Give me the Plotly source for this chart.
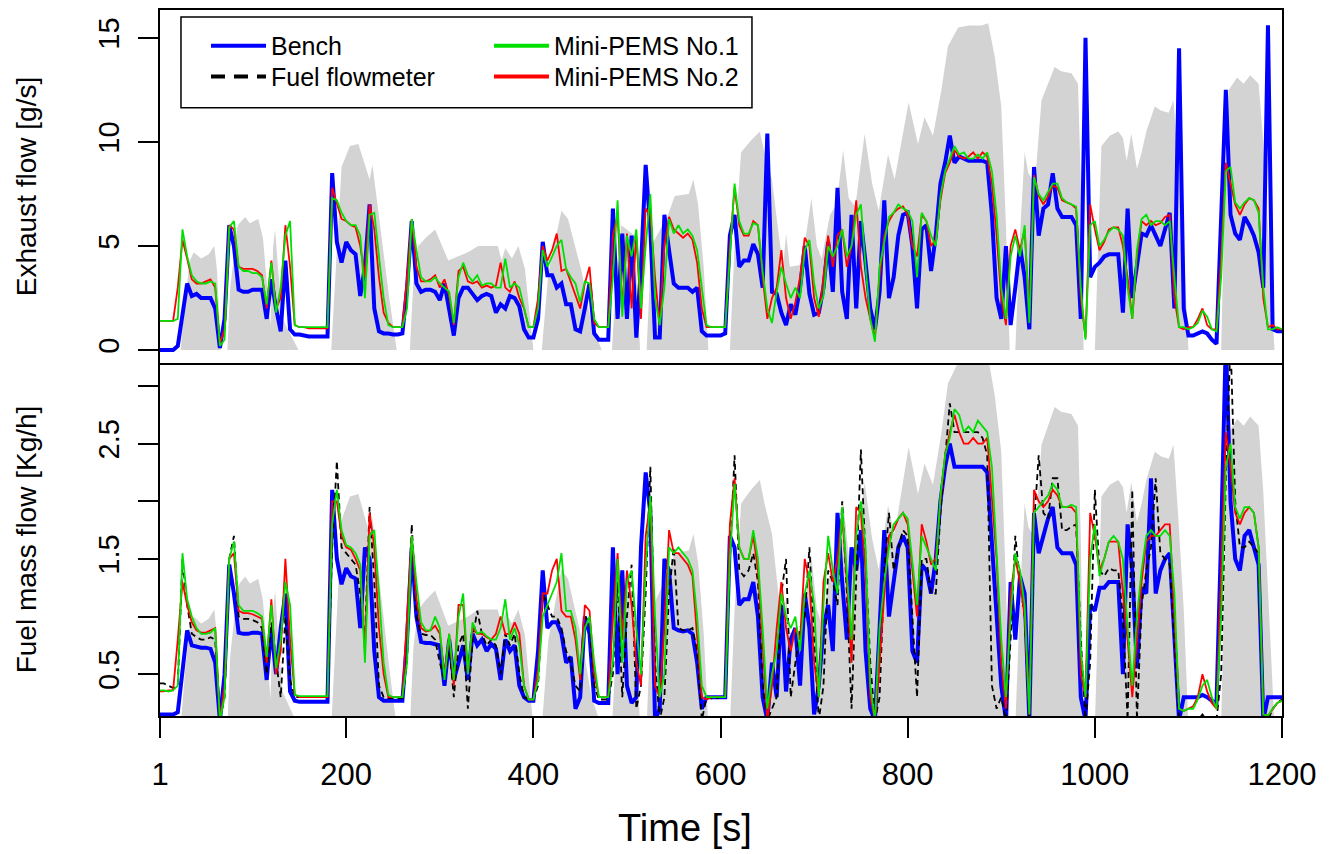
import plotly.graph_objects as go

# ---------------- data ----------------
# common time grid [s]
t = [1] + list(range(5, 1201, 5))

# grey background profile (drawn in exhaust-flow units on the top panel)
gray_t = [1, 23, 28, 33, 37, 45, 53, 59, 62, 66, 73, 76, 84, 92, 97, 101, 106, 111, 116, 119,
          122, 124, 127, 132, 140, 149, 184, 190, 195, 204, 213, 220, 225, 228, 232, 238, 246, 254, 268, 272,
          277, 285, 295, 309, 330, 341, 362, 366, 370, 377, 384, 391, 400, 409, 416, 430, 437, 452, 462, 473,
          484, 489, 494, 508, 514, 521, 526, 544, 551, 566, 571, 576, 582, 587, 610, 615, 622, 633, 642, 647,
          655, 662, 667, 670, 674, 687, 697, 703, 708, 717, 724, 731, 737, 744, 754, 762, 769, 779, 786, 801,
          811, 818, 827, 836, 843, 854, 865, 879, 886, 893, 900, 905, 909, 915, 920, 925, 929, 936, 943, 957,
          964, 975, 982, 985, 988, 1000, 1004, 1007, 1016, 1025, 1030, 1034, 1039, 1045, 1050, 1055, 1064, 1071, 1079, 1084,
          1089, 1095, 1100, 1135, 1139, 1143, 1152, 1159, 1166, 1175, 1180, 1187, 1192, 1200]
gray_v = [0, 0, 2.5, 4.3, 4.7, 4.4, 4.6, 5.0, 3.8, 0, 0, 3.0, 6.0, 6.4, 6.1, 6.2, 6.3, 5.4, 2.5, 1.2,
          5.0, 5.8, 4.0, 1.5, 0.8, 0, 0, 5.0, 8.8, 9.8, 9.9, 8.9, 8.2, 8.9, 7.5, 5.2, 2.5, 0, 0, 3.5,
          5.0, 5.4, 5.8, 4.3, 4.7, 5.0, 5.0, 4.3, 4.9, 4.4, 5.0, 3.9, 0, 0, 3.7, 6.7, 6.3, 3.7, 1.3, 0,
          0, 4.0, 6.0, 5.5, 0, 0, 5.0, 6.5, 7.4, 7.5, 8.2, 7.0, 4.0, 0, 0, 5.0, 9.5, 10.1, 10.5, 9.5,
          8.2, 5.6, 4.0, 5.6, 4.0, 4.1, 7.3, 5.0, 4.4, 6.5, 7.0, 9.6, 7.3, 6.9, 10.4, 8.0, 6.7, 9.4, 8.2, 11.9,
          9.9, 11.2, 10.3, 12.5, 14.6, 15.5, 15.6, 15.6, 15.7, 14.1, 11.7, 6.0, 0, 0, 5.5, 9.5, 8.5, 8.0, 12.0, 13.6,
          13.4, 13.3, 12.8, 8.0, 0, 0, 6.0, 9.8, 10.3, 10.5, 10.2, 9.1, 10.4, 8.7, 9.5, 10.5, 11.7, 11.5, 11.4, 12.0,
          9.0, 5.0, 0, 0, 8.0, 12.5, 13.1, 12.8, 13.2, 12.8, 10.0, 4.0, 0, 0]

# Exhaust flow [g/s]
bench_exh = [
    0, 0, 0, 0, 0.2, 1.8, 3.2, 2.6, 2.7, 2.5, 2.5, 2.5, 2.0, 0.1, 1.5, 6.0, 5.0, 2.9, 2.8, 2.8,
    2.9, 2.9, 2.9, 1.5, 3.4, 2.0, 0.9, 4.3, 1.0, 0.75, 0.75, 0.7, 0.65, 0.65, 0.65, 0.65, 0.65, 8.5, 5.2, 4.2,
    5.2, 4.8, 4.6, 2.6, 4.0, 7.0, 2.0, 0.9, 0.8, 0.8, 0.75, 0.75, 0.8, 3.0, 6.2, 3.2, 2.8, 2.9, 2.9, 2.8,
    2.4, 3.2, 2.0, 0.7, 2.5, 3.0, 3.0, 2.7, 2.4, 2.6, 2.7, 2.6, 1.8, 2.2, 2.0, 2.6, 2.5, 2.1, 1.0, 0.6,
    0.6, 1.5, 5.2, 3.6, 3.6, 3.0, 3.2, 2.2, 2.2, 1.0, 0.9, 2.0, 3.2, 0.8, 0.5, 0.5, 0.5, 6.8, 1.5, 5.6,
    1.5, 5.5, 0.6, 4.0, 8.9, 5.8, 0.6, 0.6, 6.5, 4.8, 3.2, 3.0, 3.0, 3.0, 2.8, 3.0, 0.9, 0.7, 0.7, 0.7,
    0.7, 0.8, 5.5, 6.5, 4.0, 4.3, 4.3, 5.1, 4.6, 3.0, 10.4, 2.8, 2.7, 1.8, 1.2, 2.2, 1.7, 3.0, 5.0, 2.7,
    1.7, 1.8, 3.0, 5.2, 2.8, 7.8, 2.8, 1.5, 6.5, 2.0, 6.2, 4.2, 2.0, 1.0, 2.8, 7.2, 2.5, 3.5, 5.5, 6.5,
    6.6, 5.0, 2.0, 5.8, 6.0, 3.8, 5.5, 8.0, 9.0, 10.3, 9.0, 9.3, 9.2, 9.1, 9.1, 9.1, 9.1, 9.0, 6.5, 2.5,
    1.5, 5.0, 1.2, 3.0, 5.0, 3.5, 1.0, 8.8, 5.5, 6.8, 7.0, 8.5, 6.8, 6.4, 6.4, 6.4, 6.0, 1.5, 15.0, 3.5,
    4.0, 4.2, 4.5, 4.6, 4.6, 4.6, 1.8, 6.8, 2.5, 4.0, 5.6, 5.5, 6.0, 5.5, 5.0, 5.8, 6.6, 2.0, 14.5, 2.0,
    0.7, 0.7, 0.8, 0.9, 0.8, 0.5, 0.3, 6.5, 12.5, 6.5, 5.6, 5.3, 6.4, 6.0, 5.5, 4.7, 3.0, 15.6, 1.0, 0.9, 0.9]

pems1_exh = [
    1.4, 1.4, 1.4, 1.4, 1.5, 5.8, 4.5, 3.6, 3.3, 3.2, 3.2, 3.3, 3.2, 0.2, 0.5, 5.9, 6.2, 4.0, 3.8, 3.8,
    3.7, 3.7, 3.5, 2.2, 4.2, 1.8, 3.0, 5.5, 6.2, 1.2, 1.1, 1.1, 1.1, 1.1, 1.1, 1.1, 1.1, 7.3, 7.2, 6.6,
    6.2, 6.0, 6.0, 5.5, 2.5, 6.5, 6.6, 4.5, 2.5, 1.2, 1.1, 1.1, 1.1, 2.0, 6.3, 4.8, 3.5, 3.3, 3.3, 3.5,
    3.2, 3.0, 2.8, 1.3, 3.5, 4.2, 3.6, 3.3, 3.6, 3.1, 3.2, 3.2, 3.0, 3.0, 4.4, 3.0, 3.2, 3.0, 2.0, 1.1,
    1.1, 2.0, 4.8, 4.0, 4.5, 5.0, 5.3, 3.9, 3.5, 3.2, 2.3, 3.3, 3.2, 1.5, 1.1, 1.1, 1.1, 3.5, 7.2, 1.6,
    5.5, 4.5, 5.8, 2.0, 5.0, 7.5, 2.5, 1.2, 3.0, 6.3, 5.6, 6.0, 5.6, 5.8, 5.5, 4.8, 3.0, 1.2, 1.1, 1.1,
    1.1, 1.1, 4.5, 8.0, 6.2, 5.6, 5.6, 6.1, 6.0, 3.8, 2.0, 1.3, 2.8, 4.0, 3.2, 2.5, 3.0, 2.5, 4.8, 5.3,
    3.2, 2.0, 2.6, 5.0, 4.5, 5.0, 5.8, 4.5, 5.0, 6.5, 7.0, 4.0, 1.5, 0.4, 4.0, 5.2, 6.4, 6.6, 7.0, 6.8,
    6.7, 6.2, 3.5, 6.6, 6.2, 5.5, 5.0, 7.4, 8.6, 9.2, 9.8, 9.4, 9.5, 9.2, 9.2, 9.4, 9.2, 9.5, 8.6, 6.5,
    3.0, 1.5, 4.5, 5.5, 4.5, 6.0, 1.3, 8.3, 7.5, 7.2, 7.6, 8.0, 8.0, 7.3, 7.1, 7.0, 6.9, 3.0, 0.5, 6.0,
    6.2, 5.0, 5.3, 5.7, 5.9, 5.8, 5.5, 3.0, 1.5, 4.8, 6.3, 6.5, 6.0, 6.2, 6.2, 6.0, 6.2, 3.5, 1.1, 1.1,
    1.0, 1.1, 1.3, 1.9, 1.6, 1.0, 0.9, 3.5, 8.6, 8.8, 7.1, 6.8, 7.1, 7.3, 7.2, 6.6, 3.0, 1.0, 1.0, 1.1, 1.0]

pems2_exh = [
    1.4, 1.4, 1.4, 1.4, 3.0, 5.3, 4.4, 3.4, 3.2, 3.2, 3.3, 3.4, 3.0, 0.3, 1.0, 6.0, 5.8, 4.0, 3.9, 3.9,
    3.9, 3.8, 3.6, 2.0, 4.3, 2.0, 2.5, 6.0, 4.0, 1.2, 1.1, 1.1, 1.05, 1.05, 1.05, 1.05, 1.05, 7.8, 7.0, 6.3,
    6.2, 6.0, 5.9, 5.0, 3.5, 7.0, 5.8, 3.5, 1.8, 1.3, 1.1, 1.1, 1.1, 3.5, 6.3, 4.0, 3.3, 3.3, 3.4, 3.6,
    3.0, 3.4, 2.6, 1.2, 3.8, 4.0, 3.3, 3.2, 3.3, 3.0, 3.1, 3.0, 3.1, 4.2, 3.0, 2.8, 3.3, 2.5, 2.0, 1.1,
    1.1, 2.5, 5.0, 4.3, 4.8, 5.6, 3.8, 3.9, 3.3, 2.7, 2.0, 3.2, 4.0, 1.3, 1.1, 1.1, 1.1, 5.5, 6.5, 2.0,
    5.6, 2.0, 5.5, 1.5, 6.8, 6.5, 3.5, 1.2, 5.0, 6.4, 5.8, 5.6, 5.4, 5.6, 5.3, 4.2, 2.0, 1.1, 1.1, 1.1,
    1.1, 1.1, 5.0, 7.8, 6.0, 5.5, 5.5, 6.2, 6.0, 3.5, 1.5, 2.5, 3.0, 4.8, 2.5, 1.5, 2.3, 3.5, 5.4, 5.0,
    2.5, 1.6, 3.5, 5.5, 4.0, 5.5, 5.8, 4.0, 5.0, 7.2, 4.0, 2.5, 1.5, 0.6, 3.5, 5.5, 6.2, 6.6, 6.8, 6.9,
    6.5, 5.0, 4.5, 6.5, 6.2, 5.0, 5.3, 7.2, 8.5, 9.0, 9.6, 9.3, 9.2, 9.3, 9.5, 9.2, 9.5, 9.3, 8.0, 5.5,
    2.5, 1.2, 5.0, 5.8, 4.8, 5.8, 1.5, 8.4, 7.4, 7.0, 7.4, 7.9, 7.8, 7.2, 7.1, 7.0, 6.8, 2.5, 0.6, 7.0,
    5.8, 4.8, 5.2, 5.8, 5.9, 5.9, 5.0, 3.5, 1.5, 4.5, 6.2, 6.0, 6.2, 6.0, 6.1, 6.4, 6.5, 2.5, 1.1, 1.0,
    1.1, 1.1, 1.5, 2.0, 1.2, 1.0, 1.0, 4.5, 9.0, 8.0, 7.0, 6.5, 7.0, 7.3, 7.2, 6.8, 2.5, 1.1, 1.2, 1.0, 1.0]

# Fuel mass flow [Kg/h]
bench_fuel = [
    0.15, 0.15, 0.15, 0.15, 0.17, 0.55, 0.88, 0.75, 0.74, 0.73, 0.73, 0.72, 0.6, 0.1, 0.5, 1.45, 1.2, 0.86, 0.85, 0.85,
    0.86, 0.86, 0.85, 0.45, 0.9, 0.5, 0.9, 1.2, 0.35, 0.27, 0.26, 0.26, 0.26, 0.26, 0.26, 0.26, 0.26, 2.1, 1.5, 1.28,
    1.42, 1.35, 1.33, 0.9, 1.6, 1.5, 0.7, 0.3, 0.27, 0.27, 0.27, 0.27, 0.27, 0.8, 1.6, 1.0, 0.78, 0.77, 0.77, 0.76,
    0.75, 0.4, 0.8, 0.45, 0.6, 0.75, 0.45, 0.85, 0.75, 0.8, 0.7, 0.76, 0.72, 0.45, 0.8, 0.7, 0.75, 0.4, 0.3, 0.27,
    0.27, 0.7, 1.4, 0.9, 0.95, 0.95, 0.85, 0.6, 0.65, 0.2, 0.3, 1.0, 0.85, 0.27, 0.25, 0.25, 0.25, 1.6, 0.5, 1.4,
    0.4, 0.25, 0.3, 1.6, 2.25, 1.9, 0.1, 0.2, 1.5, 1.4, 0.9, 0.88, 0.87, 0.88, 0.85, 0.6, 0.2, 0.3, 0.3, 0.3,
    0.3, 0.3, 1.7, 1.6, 1.1, 1.15, 1.15, 1.3, 1.0, 0.3, 0.1, 0.6, 0.3, 1.1, 0.35, 0.8, 0.9, 0.4, 1.2, 0.9,
    0.15, 0.4, 0.9, 1.1, 0.7, 1.9, 1.3, 0.8, 1.6, 1.4, 1.75, 0.7, 0.2, 0.1, 0.9, 1.75, 1.0, 1.3, 1.6, 1.7,
    1.6, 0.7, 0.6, 1.45, 1.4, 1.2, 1.5, 2.0, 2.3, 2.5, 2.3, 2.3, 2.3, 2.3, 2.3, 2.3, 2.3, 2.25, 1.6, 1.0,
    0.4, 0.1, 1.3, 0.8, 1.35, 1.2, 0.1, 1.9, 1.55, 1.7, 1.85, 1.95, 1.6, 1.55, 1.55, 1.55, 1.45, 0.3, 0.1, 1.1,
    1.05, 1.25, 1.25, 1.3, 1.3, 1.3, 0.5, 1.8, 1.4, 0.55, 1.25, 1.2, 2.2, 1.2, 1.4, 1.5, 1.55, 0.9, 0.1, 0.3,
    0.3, 0.3, 0.3, 0.32, 0.3, 0.27, 0.25, 1.7, 3.4, 2.0, 1.5, 1.4, 1.7, 1.75, 1.6, 1.45, 0.1, 0.3, 0.3, 0.3, 0.3]

flowmeter_fuel = [
    0.42, 0.42, 0.4, 0.38, 0.4, 1.5, 1.1, 0.85, 0.82, 0.8, 0.8, 0.82, 0.8, 0.1, 0.3, 1.5, 1.7, 1.0, 0.98, 0.98,
    0.97, 0.95, 0.9, 0.5, 0.95, 0.6, 0.3, 1.0, 0.45, 0.3, 0.3, 0.3, 0.3, 0.3, 0.3, 0.3, 0.3, 1.6, 2.35, 1.6,
    1.55, 1.5, 1.45, 1.2, 0.8, 1.95, 1.3, 0.4, 0.3, 0.29, 0.29, 0.29, 0.29, 0.6, 1.8, 1.0, 0.85, 0.84, 0.84, 0.8,
    0.6, 0.45, 0.75, 0.3, 0.75, 0.85, 0.2, 0.8, 1.05, 0.85, 0.75, 0.8, 0.75, 0.5, 0.85, 0.75, 0.85, 0.5, 0.3, 0.28,
    0.28, 0.4, 1.2, 1.1, 1.0, 1.0, 0.9, 0.7, 0.6, 0.4, 0.35, 1.0, 0.95, 0.4, 0.28, 0.28, 0.28, 0.5, 1.3, 0.3,
    1.0, 1.45, 0.2, 0.4, 1.2, 2.3, 0.6, 0.1, 0.3, 1.2, 1.6, 0.9, 0.88, 0.88, 0.9, 0.7, 0.1, 0.3, 0.29, 0.29,
    0.3, 0.3, 1.5, 2.4, 1.4, 1.35, 1.4, 1.55, 1.3, 0.4, 0.1, 0.2, 0.3, 1.2, 1.5, 0.3, 0.6, 0.9, 1.0, 1.6,
    0.8, 0.1, 0.4, 1.4, 1.3, 1.1, 2.0, 1.2, 0.2, 1.4, 2.45, 1.5, 0.6, 0.1, 0.3, 1.4, 1.9, 1.4, 1.6, 1.75,
    1.7, 1.0, 0.3, 1.5, 1.5, 1.2, 1.2, 1.9, 2.4, 2.85, 2.6, 2.6, 2.6, 2.6, 2.6, 2.6, 2.55, 2.4, 0.4, 0.2,
    0.3, 0.1, 0.8, 1.7, 1.3, 1.0, 0.1, 1.8, 2.4, 1.9, 1.85, 2.2, 2.2, 1.75, 1.75, 1.78, 1.8, 0.8, 0.1, 0.6,
    2.1, 1.4, 1.35, 1.42, 1.4, 1.4, 1.0, 0.1, 2.1, 0.1, 1.1, 1.4, 1.6, 2.2, 1.55, 1.5, 1.45, 0.8, 0.1, 0.1,
    0.1, 0.1, 0.1, 0.15, 0.1, 0.1, 0.1, 0.5, 2.2, 3.4, 2.0, 1.6, 1.6, 1.65, 1.6, 1.55, 0.1, 0.1, 0.2, 0.25, 0.28]

pems1_fuel = [
    0.36, 0.36, 0.35, 0.36, 0.4, 1.55, 1.15, 1.0, 0.9, 0.85, 0.85, 0.86, 0.9, 0.1, 0.3, 1.5, 1.65, 1.1, 1.05, 1.05,
    1.05, 1.03, 1.0, 0.65, 1.1, 0.55, 0.8, 1.3, 1.1, 0.32, 0.31, 0.31, 0.31, 0.31, 0.31, 0.31, 0.31, 1.8, 2.1, 1.75,
    1.62, 1.6, 1.55, 1.45, 0.6, 1.7, 1.75, 1.2, 0.6, 0.32, 0.3, 0.3, 0.3, 0.6, 1.7, 1.3, 0.95, 0.88, 0.88, 1.0,
    0.9, 0.45, 0.85, 0.45, 1.0, 1.2, 0.5, 0.95, 0.85, 0.87, 0.83, 0.8, 0.8, 0.9, 1.15, 0.8, 0.9, 0.75, 0.4, 0.28,
    0.28, 0.45, 1.0, 1.1, 1.2, 1.3, 1.55, 1.05, 1.05, 0.9, 0.5, 0.9, 1.0, 0.6, 0.3, 0.3, 0.3, 0.6, 1.5, 0.6,
    1.3, 1.4, 0.9, 0.5, 1.4, 2.05, 1.0, 0.3, 0.5, 1.6, 1.55, 1.6, 1.55, 1.5, 1.4, 1.0, 0.4, 0.3, 0.3, 0.3,
    0.3, 0.3, 1.5, 2.15, 1.6, 1.5, 1.5, 1.75, 1.5, 0.9, 0.2, 0.5, 0.7, 1.2, 1.0, 0.9, 1.0, 0.7, 1.2, 1.4,
    1.1, 0.3, 1.1, 1.7, 1.4, 1.2, 1.95, 1.4, 0.8, 1.7, 2.0, 1.6, 0.4, 0.1, 0.9, 1.3, 1.6, 1.8, 1.85, 1.9,
    1.85, 1.5, 1.1, 1.7, 1.6, 1.5, 1.4, 2.05, 2.4, 2.55, 2.8, 2.75, 2.6, 2.65, 2.6, 2.7, 2.65, 2.6, 2.3, 1.6,
    0.8, 0.3, 1.0, 1.55, 1.4, 1.1, 0.15, 1.9, 1.95, 2.0, 2.05, 2.15, 2.1, 1.95, 1.95, 1.97, 1.95, 0.7, 0.3, 1.5,
    1.8, 1.35, 1.5, 1.65, 1.7, 1.65, 1.5, 0.9, 0.4, 1.0, 1.4, 1.7, 1.75, 1.7, 1.7, 1.75, 1.7, 1.2, 0.2, 0.18,
    0.2, 0.2, 0.28, 0.4, 0.45, 0.3, 0.2, 1.0, 2.3, 2.5, 1.95, 1.85, 1.95, 1.95, 1.9, 1.6, 0.15, 0.14, 0.2, 0.25, 0.27]

pems2_fuel = [
    0.35, 0.35, 0.36, 0.36, 0.8, 1.3, 1.1, 0.95, 0.88, 0.86, 0.86, 0.88, 0.9, 0.1, 0.4, 1.5, 1.55, 1.05, 1.03, 1.03,
    1.02, 1.0, 0.98, 0.6, 1.15, 0.5, 0.7, 1.5, 0.8, 0.32, 0.3, 0.3, 0.3, 0.3, 0.3, 0.3, 0.3, 2.0, 2.0, 1.7,
    1.6, 1.58, 1.5, 1.4, 0.7, 1.9, 1.6, 0.9, 0.5, 0.3, 0.3, 0.3, 0.3, 1.0, 1.7, 1.15, 0.9, 0.87, 0.88, 0.92,
    0.85, 0.5, 0.85, 0.4, 1.1, 1.1, 0.5, 0.9, 0.85, 0.85, 0.82, 0.8, 0.85, 1.0, 0.85, 0.85, 0.95, 0.85, 0.4, 0.28,
    0.28, 0.55, 1.2, 1.2, 1.4, 1.5, 1.05, 1.0, 1.0, 0.8, 0.45, 1.1, 1.05, 0.5, 0.3, 0.3, 0.3, 1.0, 1.55, 0.8,
    1.4, 1.1, 0.6, 0.4, 1.7, 2.0, 0.4, 0.3, 0.9, 1.75, 1.55, 1.55, 1.5, 1.45, 1.35, 0.8, 0.3, 0.28, 0.3, 0.3,
    0.3, 0.3, 1.8, 2.2, 1.6, 1.5, 1.5, 1.7, 1.4, 0.8, 0.1, 0.4, 0.9, 1.3, 0.9, 0.7, 0.9, 0.8, 1.5, 1.3,
    0.6, 0.3, 1.3, 1.55, 1.3, 1.5, 1.9, 1.3, 0.6, 1.95, 1.9, 1.4, 0.3, 0.1, 0.6, 1.2, 1.7, 1.75, 1.85, 1.9,
    1.8, 1.4, 1.0, 1.8, 1.65, 1.45, 1.5, 2.0, 2.4, 2.6, 2.75, 2.6, 2.5, 2.5, 2.55, 2.5, 2.5, 2.55, 2.0, 1.5,
    0.6, 0.2, 1.2, 1.5, 1.3, 1.0, 0.15, 2.1, 2.0, 1.95, 2.0, 2.1, 2.05, 1.95, 1.95, 1.95, 1.9, 0.5, 0.3, 1.9,
    1.7, 1.4, 1.5, 1.65, 1.65, 1.65, 1.2, 0.8, 0.3, 0.8, 1.3, 1.65, 1.7, 1.7, 1.75, 1.8, 1.8, 1.0, 0.2, 0.18,
    0.2, 0.22, 0.3, 0.5, 0.35, 0.25, 0.2, 1.5, 2.6, 2.3, 1.9, 1.8, 1.9, 1.95, 1.9, 1.6, 0.15, 0.14, 0.2, 0.25, 0.27]

x_ticks = [1, 200, 400, 600, 800, 1000, 1200]
top_ticks = [0, 5, 10, 15]
bottom_ticks = [0.5, 1.0, 1.5, 2.0, 2.5, 3.0]
bottom_ticktext = ["0.5", "", "1.5", "", "2.5", ""]
legend_names = ["Bench", "Fuel flowmeter", "Mini-PEMS No.1", "Mini-PEMS No.2"]

# ---------------- styles ----------------
FONT = "Liberation Sans, Arial, sans-serif"
GREY = "#D3D3D3"
BLUE = "#0000FF"
GREEN = "#00E000"
RED = "#FF0000"

fig = go.Figure()

# grey background, top and bottom
fig.add_trace(go.Scatter(x=gray_t, y=gray_v, xaxis="x2", yaxis="y2", mode="lines",
                         line=dict(width=0, color=GREY), fill="tozeroy", fillcolor=GREY,
                         showlegend=False, hoverinfo="skip"))
fig.add_trace(go.Scatter(x=gray_t, y=gray_v, xaxis="x", yaxis="y", mode="lines",
                         line=dict(width=0, color=GREY), fill="tozeroy", fillcolor=GREY,
                         showlegend=False, hoverinfo="skip"))

# top panel: exhaust flow
fig.add_trace(go.Scatter(x=t, y=bench_exh, xaxis="x2", yaxis="y2", mode="lines",
                         line=dict(color=BLUE, width=4), showlegend=False))
fig.add_trace(go.Scatter(x=t, y=pems2_exh, xaxis="x2", yaxis="y2", mode="lines",
                         line=dict(color=RED, width=1.8), showlegend=False))
fig.add_trace(go.Scatter(x=t, y=pems1_exh, xaxis="x2", yaxis="y2", mode="lines",
                         line=dict(color=GREEN, width=1.8), showlegend=False))

# bottom panel: fuel mass flow
fig.add_trace(go.Scatter(x=t, y=bench_fuel, xaxis="x", yaxis="y3", mode="lines",
                         line=dict(color=BLUE, width=4), showlegend=False))
fig.add_trace(go.Scatter(x=t, y=flowmeter_fuel, xaxis="x", yaxis="y3", mode="lines",
                         line=dict(color="black", width=1.8, dash="6px,4px"), showlegend=False))
fig.add_trace(go.Scatter(x=t, y=pems2_fuel, xaxis="x", yaxis="y3", mode="lines",
                         line=dict(color=RED, width=1.8), showlegend=False))
fig.add_trace(go.Scatter(x=t, y=pems1_fuel, xaxis="x", yaxis="y3", mode="lines",
                         line=dict(color=GREEN, width=1.8), showlegend=False))

# legend entries (key samples, drawn thick like the reference key)
legend_styles = [dict(color=BLUE, width=4), dict(color="black", width=4, dash="14px,9px"),
                 dict(color=GREEN, width=4), dict(color=RED, width=4)]
legend_ids = ["legend", "legend2", "legend3", "legend4"]
for name, st, lid in zip(legend_names, legend_styles, legend_ids):
    fig.add_trace(go.Scatter(x=[None], y=[None], xaxis="x", yaxis="y3", mode="lines",
                             name=name, line=st, legend=lid, showlegend=True))

axis_common = dict(showline=True, linecolor="black", linewidth=1.5,
                   showgrid=False, zeroline=False)
tickfont_y = dict(family=FONT, size=29, color="black")
tickfont_x = dict(family=FONT, size=31, color="black")

leg_font = dict(family=FONT, size=25, color="black")
row_y = [0.9816, 0.9379]
col_x = [0.0410, 0.2932]
leg_pos = [(col_x[0], row_y[0]), (col_x[0], row_y[1]), (col_x[1], row_y[0]), (col_x[1], row_y[1])]
legends = {}
for lid, (lx, ly) in zip(legend_ids, leg_pos):
    legends[lid] = dict(x=lx, y=ly, xanchor="left", yanchor="top", bgcolor="rgba(0,0,0,0)",
                        font=leg_font, itemwidth=55, borderwidth=0)

fig.update_layout(
    width=1326, height=846,
    paper_bgcolor="white", plot_bgcolor="white",
    margin=dict(l=152, r=52, t=0, b=138),
    font=dict(family=FONT, color="black"),
    xaxis=dict(domain=[0, 1], anchor="y", range=[1, 1200], tickvals=x_ticks, mirror=False,
               ticks="outside", ticklen=20, tickwidth=1.5, tickcolor="black",
               tickfont=tickfont_x, ticklabelstandoff=10,
               **axis_common),
    xaxis2=dict(domain=[0, 1], anchor="y2", range=[1, 1200], matches="x", mirror=True,
                showticklabels=False, ticks="", **axis_common),
    yaxis=dict(domain=[0, 0.5], anchor="x", range=[0.47, 15.47], visible=False),
    yaxis3=dict(overlaying="y", anchor="x", side="left", range=[0.137, 3.2],
                tickvals=bottom_ticks, ticktext=bottom_ticktext, mirror=True,
                ticks="outside", ticklen=20, tickwidth=1.5, tickcolor="black",
                tickfont=tickfont_y, tickangle=-90, ticklabelstandoff=8,
                title=dict(text="Fuel mass flow [Kg/h]", font=dict(family=FONT, size=28), standoff=48),
                **axis_common),
    yaxis2=dict(domain=[0.5, 1], anchor="x2", range=[-0.62, 16.34], mirror=True,
                tickvals=top_ticks, ticks="outside", ticklen=20, tickwidth=1.5, tickcolor="black",
                tickfont=tickfont_y, tickangle=-90, ticklabelstandoff=8,
                title=dict(text="Exhaust flow [g/s]", font=dict(family=FONT, size=28), standoff=48),
                **axis_common),
    shapes=[dict(type="rect", xref="paper", yref="paper", x0=0.0187, x1=0.5276, y0=0.8616, y1=0.990,
                 line=dict(color="black", width=1.5), fillcolor="rgba(0,0,0,0)", layer="above")],
    annotations=[dict(text="Time [s]", xref="paper", yref="paper", x=0.468, y=-0.158,
                      xanchor="center", yanchor="middle", showarrow=False,
                      font=dict(family=FONT, size=38, color="black"))],
    showlegend=True,
    **legends,
)

fig.write_html("out.html")
